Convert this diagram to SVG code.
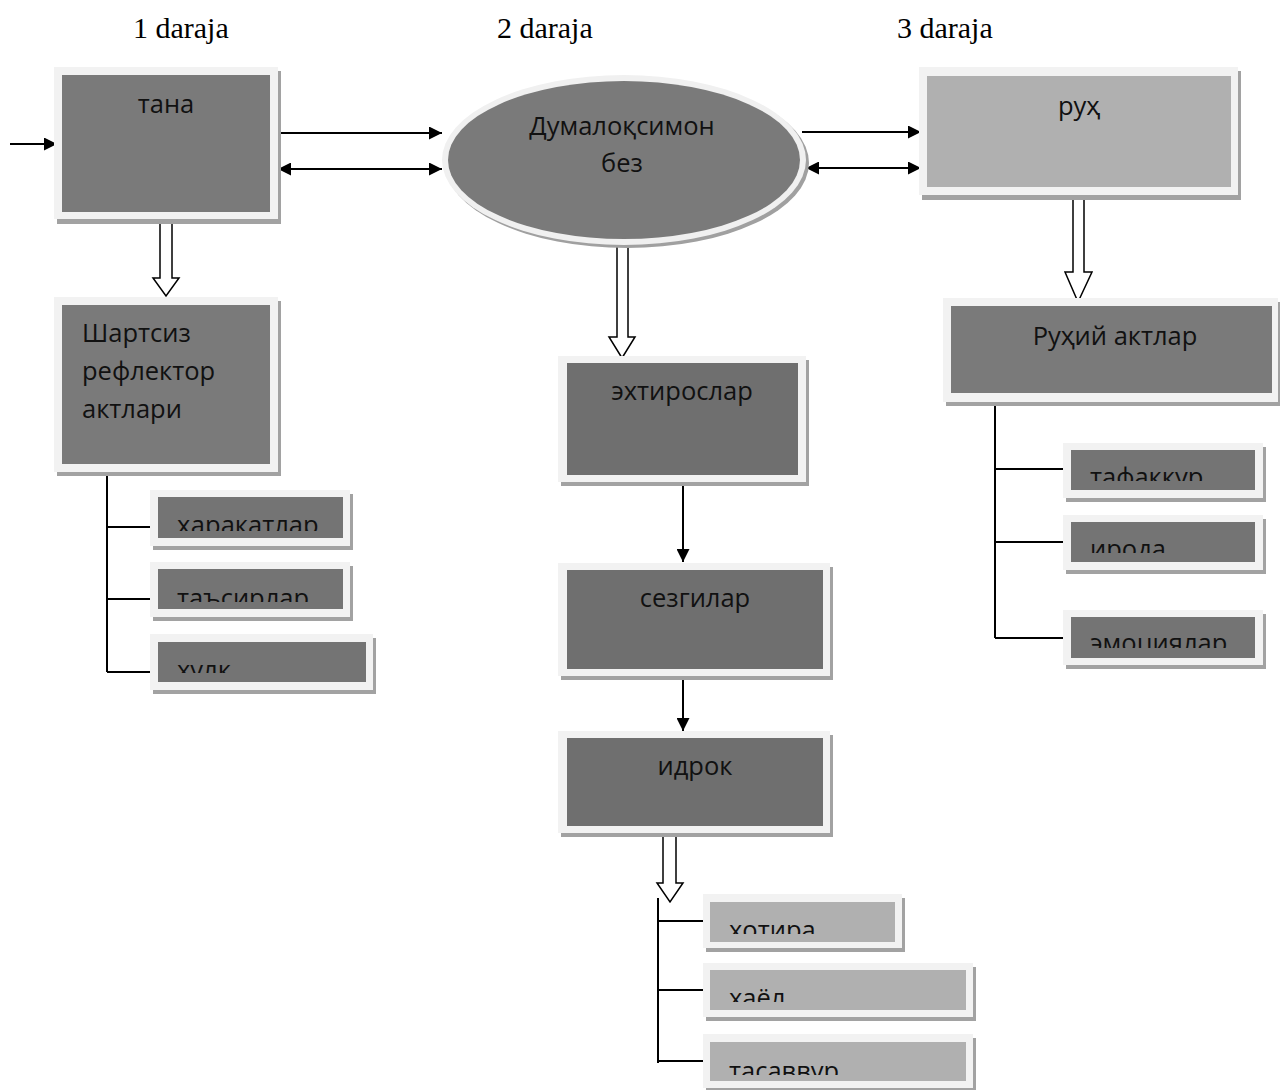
<svg xmlns="http://www.w3.org/2000/svg" width="1280" height="1090" viewBox="0 0 1280 1090">
<style>
.sh{fill:#a2a2a2}
.ol{fill:#f2f2f2}
.dk{fill:#7a7a7a}
.dk2{fill:#6f6f6f}
.sm{fill:#747474}
.lt{fill:#b0b0b0}
.t{font-family:"Open Sans","Noto Sans","DejaVu Sans",sans-serif;font-size:25.5px;fill:#111}
.c{text-anchor:middle}
.h{font-family:"Liberation Serif","Times New Roman",serif;font-size:30px;fill:#000}
.ln{stroke:#000;stroke-width:2;fill:none}
.blk{fill:#fff;stroke:#000;stroke-width:1.5}
</style>
<defs>
<marker id="ah" viewBox="0 0 10 10" refX="10" refY="5" markerWidth="15" markerHeight="13" markerUnits="userSpaceOnUse" orient="auto-start-reverse">
<path d="M0,0 L10,5 L0,10 z" fill="#000"/>
</marker>
<clipPath id="c1"><rect x="150" y="490" width="200" height="41"/></clipPath>
<clipPath id="c2"><rect x="150" y="562" width="200" height="40"/></clipPath>
<clipPath id="c3"><rect x="150" y="634" width="223" height="39"/></clipPath>
<clipPath id="c4"><rect x="1063" y="443" width="200" height="38"/></clipPath>
<clipPath id="c5"><rect x="1063" y="515" width="200" height="38"/></clipPath>
<clipPath id="c6"><rect x="1063" y="610" width="200" height="38"/></clipPath>
<clipPath id="c7"><rect x="703" y="894" width="200" height="40"/></clipPath>
<clipPath id="c8"><rect x="703" y="963" width="270" height="39"/></clipPath>
<clipPath id="c9"><rect x="703" y="1034" width="270" height="41"/></clipPath>
</defs>

<g id="headings">
<text class="h" x="133" y="38">1 daraja</text>
<text class="h" x="497" y="38">2 daraja</text>
<text class="h" x="897" y="38">3 daraja</text>
</g>

<g id="connectors">
<line class="ln" x1="10" y1="144" x2="57" y2="144" marker-end="url(#ah)"/>
<line class="ln" x1="275" y1="133" x2="442" y2="133" marker-end="url(#ah)"/>
<line class="ln" x1="278" y1="169" x2="442" y2="169" marker-start="url(#ah)" marker-end="url(#ah)"/>
<line class="ln" x1="802" y1="132" x2="921" y2="132" marker-end="url(#ah)"/>
<line class="ln" x1="806" y1="168" x2="921" y2="168" marker-start="url(#ah)" marker-end="url(#ah)"/>
<path class="blk" d="M160,222 V278 H153 L166,296 L179,278 H172 V222"/>
<path class="blk" d="M617,240 V337 H609 L622,358 L635,337 H628 V240"/>
<path class="blk" d="M1073,200 V272 H1065 L1078,302 L1092,272 H1084 V200"/>
<path class="blk" d="M663,836 V883 H657 L670,902 L683,883 H676 V836"/>
<line class="ln" x1="683" y1="486" x2="683" y2="562" marker-end="url(#ah)"/>
<line class="ln" x1="683" y1="680" x2="683" y2="731" marker-end="url(#ah)"/>
<path class="ln" d="M107,472 V672 M107,527 H153 M107,599 H153 M107,672 H153"/>
<path class="ln" d="M995,402 V638 M995,469 H1063 M995,542 H1063 M995,638 H1063"/>
<path class="ln" d="M658,898 V1063 M658,921 H703 M658,990 H710 M658,1061 H710"/>
</g>

<g id="n-tana">
<rect class="sh" x="57" y="71" width="224" height="153"/>
<rect class="ol" x="54" y="67" width="224" height="152"/>
<rect class="dk" x="62" y="75" width="208" height="137"/>
<text class="t c" x="166" y="113">тана</text>
</g>

<g id="n-bez">
<ellipse cx="627" cy="163" rx="182" ry="85" fill="#a0a0a0"/>
<ellipse cx="624" cy="160" rx="182" ry="85" fill="#f0f0f0"/>
<ellipse cx="624" cy="160" rx="176" ry="79" fill="#7a7a7a"/>
<text class="t c" x="622" y="135">Думалоқсимон</text>
<text class="t c" x="622" y="172">без</text>
</g>

<g id="n-ruh">
<rect class="sh" x="922" y="71" width="319" height="129"/>
<rect class="ol" x="919" y="67" width="319" height="128"/>
<rect class="lt" x="927" y="76" width="304" height="111"/>
<text class="t c" x="1079" y="115">руҳ</text>
</g>

<g id="n-shartsiz">
<rect class="sh" x="57" y="301" width="224" height="175"/>
<rect class="ol" x="54" y="297" width="224" height="175"/>
<rect class="dk" x="62" y="305" width="208" height="159"/>
<text class="t" x="82" y="342">Шартсиз</text>
<text class="t" x="82" y="380">рефлектор</text>
<text class="t" x="82" y="418">актлари</text>
</g>

<g id="n-ruhiy">
<rect class="sh" x="946" y="302" width="334" height="104"/>
<rect class="ol" x="943" y="298" width="335" height="104"/>
<rect class="dk" x="951" y="306" width="321" height="87"/>
<text class="t c" x="1115" y="345">Руҳий актлар</text>
</g>

<g id="n-ehtiros">
<rect class="sh" x="561" y="360" width="248" height="126"/>
<rect class="ol" x="558" y="356" width="248" height="126"/>
<rect class="dk2" x="567" y="363" width="231" height="112"/>
<text class="t c" x="682" y="400">эхтирослар</text>
</g>

<g id="n-sezgi">
<rect class="sh" x="561" y="567" width="272" height="113"/>
<rect class="ol" x="558" y="563" width="272" height="113"/>
<rect class="dk2" x="567" y="570" width="256" height="99"/>
<text class="t c" x="695" y="607">сезгилар</text>
</g>

<g id="n-idrok">
<rect class="sh" x="561" y="735" width="272" height="102"/>
<rect class="ol" x="558" y="731" width="272" height="102"/>
<rect class="dk2" x="567" y="738" width="256" height="88"/>
<text class="t c" x="695" y="775">идрок</text>
</g>

<g id="n-harakat">
<rect class="sh" x="153" y="494" width="200" height="56"/>
<rect class="ol" x="150" y="490" width="200" height="56"/>
<rect class="sm" x="158" y="497" width="185" height="41"/>
<text class="t" x="177" y="534" clip-path="url(#c1)">ҳаракатлар</text>
</g>

<g id="n-tasir">
<rect class="sh" x="153" y="566" width="200" height="55"/>
<rect class="ol" x="150" y="562" width="200" height="55"/>
<rect class="sm" x="158" y="569" width="185" height="40"/>
<text class="t" x="177" y="607" clip-path="url(#c2)">таъсирлар</text>
</g>

<g id="n-xulq">
<rect class="sh" x="153" y="638" width="223" height="56"/>
<rect class="ol" x="150" y="634" width="223" height="56"/>
<rect class="sm" x="158" y="642" width="208" height="40"/>
<text class="t" x="177" y="679" clip-path="url(#c3)">хулқ</text>
</g>

<g id="n-tafakkur">
<rect class="sh" x="1066" y="447" width="200" height="55"/>
<rect class="ol" x="1063" y="443" width="200" height="55"/>
<rect class="sm" x="1071" y="450" width="184" height="40"/>
<text class="t" x="1090" y="486" clip-path="url(#c4)">тафаккур</text>
</g>

<g id="n-iroda">
<rect class="sh" x="1066" y="519" width="200" height="55"/>
<rect class="ol" x="1063" y="515" width="200" height="55"/>
<rect class="sm" x="1071" y="522" width="184" height="40"/>
<text class="t" x="1090" y="558" clip-path="url(#c5)">ирода</text>
</g>

<g id="n-emotsiya">
<rect class="sh" x="1066" y="614" width="200" height="55"/>
<rect class="ol" x="1063" y="610" width="200" height="55"/>
<rect class="sm" x="1071" y="617" width="184" height="41"/>
<text class="t" x="1090" y="652" clip-path="url(#c6)">эмоциялар</text>
</g>

<g id="n-xotira">
<rect class="sh" x="706" y="898" width="199" height="54"/>
<rect class="ol" x="703" y="894" width="199" height="54"/>
<rect class="lt" x="710" y="902" width="185" height="40"/>
<text class="t" x="729" y="939" clip-path="url(#c7)">хотира</text>
</g>

<g id="n-xayol">
<rect class="sh" x="706" y="967" width="270" height="54"/>
<rect class="ol" x="703" y="963" width="270" height="54"/>
<rect class="lt" x="710" y="970" width="256" height="40"/>
<text class="t" x="729" y="1007" clip-path="url(#c8)">хаёл</text>
</g>

<g id="n-tasavvur">
<rect class="sh" x="706" y="1038" width="270" height="52"/>
<rect class="ol" x="703" y="1034" width="270" height="54"/>
<rect class="lt" x="710" y="1042" width="256" height="39"/>
<text class="t" x="729" y="1080" clip-path="url(#c9)">тасаввур</text>
</g>
</svg>
